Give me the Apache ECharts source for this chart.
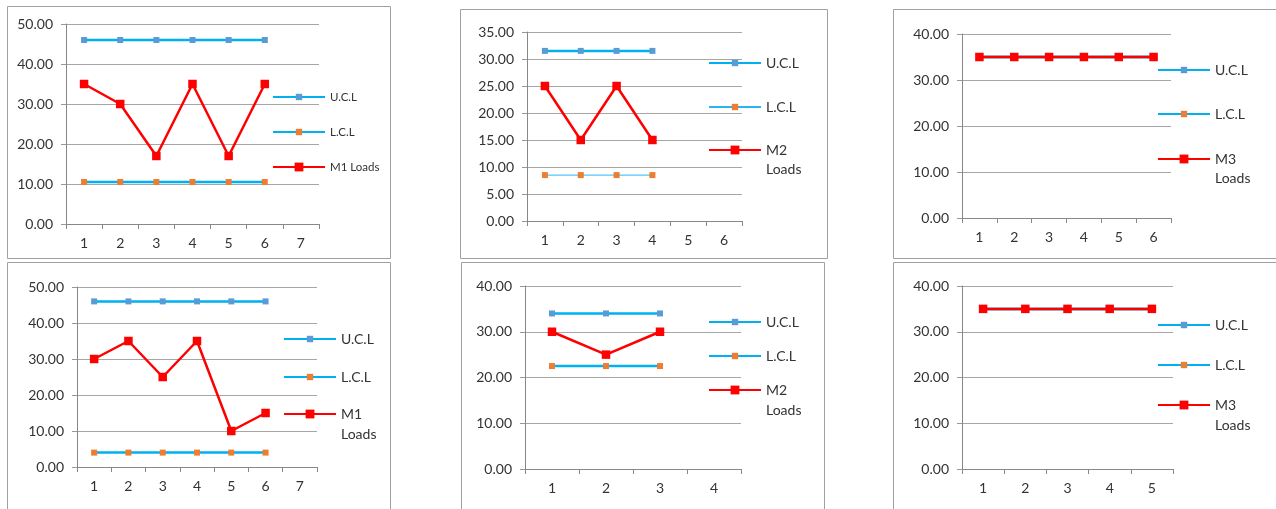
<!DOCTYPE html>
<html><head><meta charset="utf-8">
<script src="https://cdn.jsdelivr.net/npm/echarts@6/dist/echarts.min.js"></script>
<style>html,body{margin:0;padding:0;background:#fff}#c{width:1276px;height:509px}</style>
</head><body><div id="c"></div>
<script>
// ---- data ----
const cat1 = ['1','2','3','4','5','6','7'];
const ucl1 = [46, 46, 46, 46, 46, 46];
const lcl1 = [10.5, 10.5, 10.5, 10.5, 10.5, 10.5];
const m1a  = [35, 30, 17, 35, 17, 35];

const cat2 = ['1','2','3','4','5','6'];
const ucl2 = [31.5, 31.5, 31.5, 31.5];
const lcl2 = [8.5, 8.5, 8.5, 8.5];
const m2a  = [25, 15, 25, 15];

const cat3 = ['1','2','3','4','5','6'];
const ucl3 = [35, 35, 35, 35, 35, 35];
const lcl3 = [35, 35, 35, 35, 35, 35];
const m3a  = [35, 35, 35, 35, 35, 35];

const cat4 = ['1','2','3','4','5','6','7'];
const ucl4 = [46, 46, 46, 46, 46, 46];
const lcl4 = [4, 4, 4, 4, 4, 4];
const m1b  = [30, 35, 25, 35, 10, 15];

const cat5 = ['1','2','3','4'];
const ucl5 = [34, 34, 34];
const lcl5 = [22.5, 22.5, 22.5];
const m2b  = [30, 25, 30];

const cat6 = ['1','2','3','4','5'];
const ucl6 = [35, 35, 35, 35, 35];
const lcl6 = [35, 35, 35, 35, 35];
const m3b  = [35, 35, 35, 35, 35];

const yMax = [50, 35, 40, 50, 40, 40];
const yStep = [10, 5, 10, 10, 10, 10];
const lblUCL = 'U.C.L', lblLCL = 'L.C.L';
const lblLoads = ['M1 Loads', 'M2 Loads', 'M3 Loads', 'M1 Loads', 'M2 Loads', 'M3 Loads'];

// ---- layout ----
const FONT = 'Lato, "Open Sans", sans-serif';
const TXT = '#333333';
const charts = [
  {cats:cat1, ucl:ucl1, lcl:lcl1, m:m1a, grid:{left:66, top:24, width:253, height:200},
   leg:{x:272, ys:[97,132,167], fs:11.5, lh:14, wrap:false}},
  {cats:cat2, ucl:ucl2, lcl:lcl2, m:m2a, grid:{left:527, top:32, width:215, height:189}, thinLcl:true,
   leg:{x:708, ys:[63,107,150], fs:14, lh:19, wrap:true}},
  {cats:cat3, ucl:ucl3, lcl:lcl3, m:m3a, grid:{left:962, top:34, width:209, height:184},
   leg:{x:1157, ys:[70,114,159], fs:14, lh:19, wrap:true}},
  {cats:cat4, ucl:ucl4, lcl:lcl4, m:m1b, grid:{left:77, top:287, width:240, height:180},
   leg:{x:283, ys:[339,377,414], fs:14, lh:20, wrap:true}},
  {cats:cat5, ucl:ucl5, lcl:lcl5, m:m2b, grid:{left:525, top:286, width:216, height:183},
   leg:{x:708, ys:[322,356,390], fs:14, lh:20, wrap:true}},
  {cats:cat6, ucl:ucl6, lcl:lcl6, m:m3b, grid:{left:962, top:286, width:211, height:183},
   leg:{x:1157, ys:[325,365,405], fs:14, lh:20, wrap:true}}
];
const frames = [
  [7, 6, 383, 252], [460, 9, 367, 249], [893, 9, 400, 249],
  [7, 262, 383, 260], [461, 262, 363, 260], [893, 262, 400, 260]
];

const option = {
  animation: false,
  backgroundColor: '#fff',
  grid: [], xAxis: [], yAxis: [], series: [], legend: [],
  graphic: frames.map(f => ({type:'rect', shape:{x:f[0]+0.5, y:f[1]+0.5, width:f[2], height:f[3]},
    style:{fill:'none', stroke:'#a0a0a0', lineWidth:1}, z:-1, silent:true}))
};

charts.forEach((c, i) => {
  option.grid.push(Object.assign({containLabel:false}, c.grid));
  option.xAxis.push({
    type:'category', gridIndex:i, data:c.cats, boundaryGap:true,
    axisLine:{lineStyle:{color:'#888', width:1}},
    axisTick:{show:true, length:5, inside:false, lineStyle:{color:'#888'}},
    axisLabel:{color:TXT, fontSize:14, fontFamily:FONT, margin:12},
    splitLine:{show:false}
  });
  option.yAxis.push({
    type:'value', gridIndex:i, min:0, max:yMax[i], interval:yStep[i],
    axisLine:{show:true, lineStyle:{color:'#888', width:1}},
    axisTick:{show:true, length:5, lineStyle:{color:'#999'}},
    axisLabel:{color:TXT, fontSize:14, fontFamily:FONT, margin:13, formatter:v => v.toFixed(2)},
    splitLine:{show:true, lineStyle:{color:'#a6a6a6', width:1}}
  });
  const nU = 'U' + i, nL = 'L' + i, nM = 'M' + i;
  option.series.push({
    name:nU, type:'line', xAxisIndex:i, yAxisIndex:i, data:c.ucl,
    symbol:'rect', symbolSize:6, showSymbol:true,
    lineStyle:{color:'#00B0F0', width:2.5}, itemStyle:{color:'#5B9BD5'}
  });
  option.series.push({
    name:nL, type:'line', xAxisIndex:i, yAxisIndex:i, data:c.lcl,
    symbol:'rect', symbolSize:6, showSymbol:true,
    lineStyle: c.thinLcl ? {color:'#29B6F0', width:1} : {color:'#00B0F0', width:2.5},
    itemStyle:{color:'#ED7D31'}
  });
  option.series.push({
    name:nM, type:'line', xAxisIndex:i, yAxisIndex:i, data:c.m,
    symbol:'rect', symbolSize:8.5, showSymbol:true,
    lineStyle:{color:'#FF0000', width:2.5}, itemStyle:{color:'#FF0000'}
  });
  const L = c.leg;
  const labels = [lblUCL, lblLCL, L.wrap ? '\u00a0\n' + lblLoads[i].replace(' ', '\n') : lblLoads[i]];
  [nU, nL, nM].forEach((n, k) => {
    const multi = labels[k].indexOf('\n') >= 0;
    option.legend.push({
      orient:'vertical', left:L.x, top: multi ? L.ys[k] - 1.5 * L.lh : L.ys[k] - L.lh / 2,
      padding:0, itemWidth:52, itemHeight: k === 2 ? 11 : 8,
      selectedMode:false, data:[n], formatter: () => labels[k],
      textStyle:{color:TXT, fontSize:L.fs, fontFamily:FONT, lineHeight:L.lh}
    });
  });
});

const chart = echarts.init(document.getElementById('c'), null, {renderer:'canvas'});
chart.setOption(option);
</script>
</body></html>
